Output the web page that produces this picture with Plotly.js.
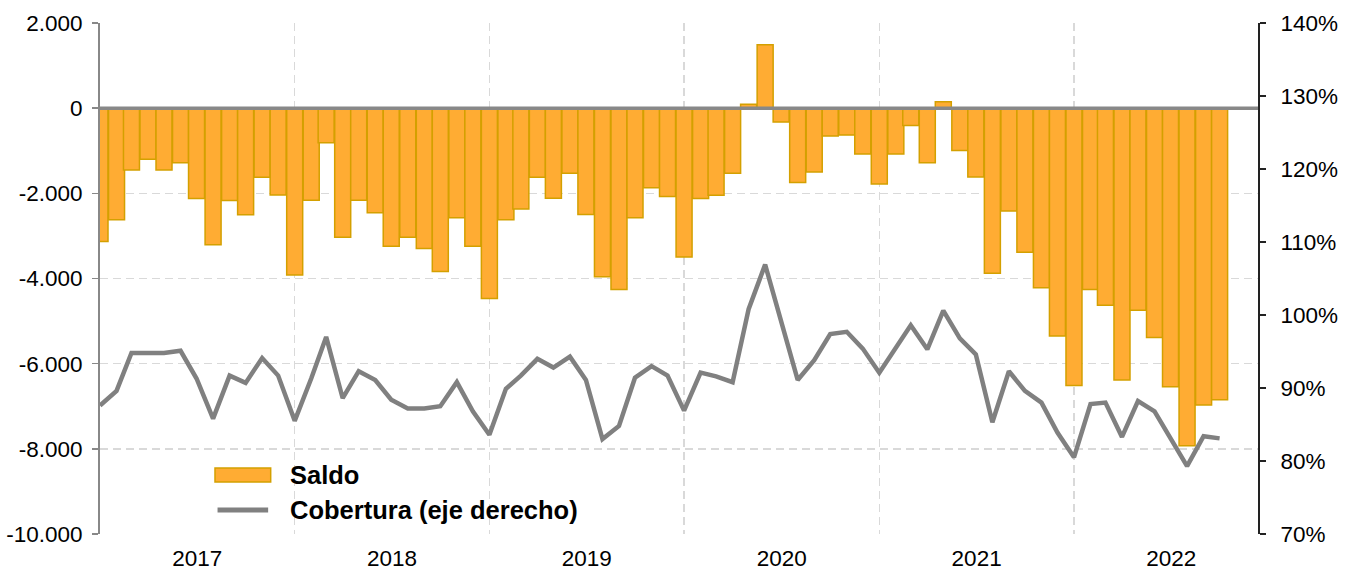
<!DOCTYPE html>
<html>
<head>
<meta charset="utf-8">
<script src="https://cdn.plot.ly/plotly-3.0.1.min.js"></script>
<style>html,body{margin:0;padding:0;background:#fff;}#chart{width:1349px;height:574px;}</style>
</head>
<body>
<div id="chart"></div>
<script>
// Months (first day of each month), Jan 2017 - Oct 2022
const months = [
  '2017-01-01','2017-02-01','2017-03-01','2017-04-01','2017-05-01','2017-06-01','2017-07-01','2017-08-01','2017-09-01','2017-10-01','2017-11-01','2017-12-01',
  '2018-01-01','2018-02-01','2018-03-01','2018-04-01','2018-05-01','2018-06-01','2018-07-01','2018-08-01','2018-09-01','2018-10-01','2018-11-01','2018-12-01',
  '2019-01-01','2019-02-01','2019-03-01','2019-04-01','2019-05-01','2019-06-01','2019-07-01','2019-08-01','2019-09-01','2019-10-01','2019-11-01','2019-12-01',
  '2020-01-01','2020-02-01','2020-03-01','2020-04-01','2020-05-01','2020-06-01','2020-07-01','2020-08-01','2020-09-01','2020-10-01','2020-11-01','2020-12-01',
  '2021-01-01','2021-02-01','2021-03-01','2021-04-01','2021-05-01','2021-06-01','2021-07-01','2021-08-01','2021-09-01','2021-10-01','2021-11-01','2021-12-01',
  '2022-01-01','2022-02-01','2022-03-01','2022-04-01','2022-05-01','2022-06-01','2022-07-01','2022-08-01','2022-09-01','2022-10-01'
];

// Saldo (left axis)
const saldo = [
  -3130,-2620,-1450,-1200,-1450,-1280,-2120,-3205,-2170,-2500,-1620,-2040,
  -3915,-2160,-810,-3030,-2160,-2455,-3245,-3030,-3295,-3836,-2573,-3244,
  -4468,-2620,-2370,-1620,-2113,-1528,-2495,-3961,-4257,-2573,-1871,-2074,
  -3493,-2121,-2043,-1528,94,1490,-327,-1747,-1497,-655,-632,-1076,
  -1778,-1076,-405,-1279,148,-995,-1618,-3875,-2417,-3384,-4218,-5349,
  -6510,-4257,-4631,-6386,-4748,-5387,-6542,-7929,-6970,-6846
];

// Cobertura, % (right axis)
const cobertura = [
  87.6,89.6,94.8,94.8,94.8,95.1,91.3,85.8,91.7,90.7,94.1,91.7,
  85.5,91.3,97.0,88.6,92.3,91.1,88.4,87.2,87.2,87.5,90.8,86.8,
  83.6,89.9,91.7,94.0,92.8,94.3,91.1,83.0,84.8,91.4,93.0,91.7,
  86.9,92.1,91.6,90.8,100.8,106.9,99.0,91.1,93.8,97.4,97.7,95.4,
  92.1,95.5,98.6,95.3,100.6,96.8,94.6,85.3,92.3,89.6,88.0,83.9,
  80.5,87.8,88.0,83.3,88.2,86.8,83.0,79.3,83.4,83.1
];

const leftTickVals = [2000, 0, -2000, -4000, -6000, -8000, -10000];
const leftTickText = ['2.000', '0', '-2.000', '-4.000', '-6.000', '-8.000', '-10.000'];
const seriesNames = ['Saldo', 'Cobertura (eje derecho)'];

const FONT = 'Liberation Sans, Arial, sans-serif';
const MONTH_MS = 30 * 24 * 3600 * 1000;
const BAR_FILL = '#FFAC33';
const BAR_LINE = '#D4A000';
const LINE_COLOR = '#808080';
const GRID_DASH = '8px,5px';

const traces = [
  {
    type: 'bar',
    name: seriesNames[0],
    x: months,
    y: saldo,
    width: MONTH_MS,
    marker: { color: BAR_FILL, line: { color: BAR_LINE, width: 1.5 } },
    yaxis: 'y'
  },
  {
    type: 'scatter',
    mode: 'lines',
    name: seriesNames[1],
    x: months,
    y: cobertura,
    line: { color: LINE_COLOR, width: 4.5 },
    yaxis: 'y2'
  }
];

const legendFont = { family: FONT, size: 25.5, color: '#000', weight: 'bold' };

const layout = {
  width: 1349,
  height: 574,
  margin: { l: 100, r: 91, t: 23, b: 40 },
  paper_bgcolor: '#ffffff',
  plot_bgcolor: '#ffffff',
  font: { family: FONT, size: 22.5, color: '#000' },
  showlegend: false,
  bargap: 0,
  xaxis: {
    type: 'date',
    range: ['2017-01-01', '2022-12-12'],
    tick0: '2017-01-01',
    dtick: 'M12',
    ticklabelmode: 'period',
    tickformat: '%Y',
    ticks: '',
    ticklabelstandoff: 8,
    showgrid: true,
    gridcolor: '#d9d9d9',
    griddash: GRID_DASH,
    gridwidth: 1.5,
    zeroline: false,
    showline: false,
    tickfont: { family: FONT, size: 22.5, color: '#000' }
  },
  yaxis: {
    range: [-10000, 2000],
    tickmode: 'array',
    tickvals: leftTickVals,
    ticktext: leftTickText,
    showgrid: true,
    gridcolor: '#d9d9d9',
    griddash: GRID_DASH,
    gridwidth: 1.5,
    zeroline: false,
    showline: true,
    linecolor: '#888888',
    linewidth: 2,
    ticks: 'outside',
    ticklen: 6,
    tickcolor: '#888888',
    tickwidth: 1.5,
    ticklabelstandoff: 5,
    tickfont: { family: FONT, size: 22.5, color: '#000' }
  },
  yaxis2: {
    overlaying: 'y',
    side: 'right',
    range: [70, 140],
    dtick: 10,
    tick0: 70,
    ticksuffix: '%',
    showgrid: false,
    zeroline: false,
    showline: true,
    linecolor: '#222222',
    linewidth: 2,
    ticks: 'outside',
    ticklen: 6,
    tickcolor: '#222222',
    tickwidth: 1.5,
    ticklabelstandoff: 10,
    tickfont: { family: FONT, size: 22.5, color: '#000' }
  },
  shapes: [
    { type: 'line', xref: 'paper', x0: 0, x1: 1, yref: 'y', y0: 0, y1: 0,
      line: { color: '#888888', width: 3.5 }, layer: 'above' },
    // legend swatches
    { type: 'rect', xref: 'paper', yref: 'paper', x0: 0.0993, x1: 0.1474, y0: 0.1018, y1: 0.1292,
      fillcolor: BAR_FILL, line: { color: BAR_LINE, width: 1.5 }, layer: 'above' },
    { type: 'line', xref: 'paper', yref: 'paper', x0: 0.1015, x1: 0.1452, y0: 0.047, y1: 0.047,
      line: { color: LINE_COLOR, width: 5 }, layer: 'above' }
  ],
  annotations: [
    { xref: 'paper', yref: 'paper', x: 0.1625, y: 0.1155, xanchor: 'left', yanchor: 'middle',
      text: seriesNames[0], showarrow: false, font: legendFont },
    { xref: 'paper', yref: 'paper', x: 0.1625, y: 0.047, xanchor: 'left', yanchor: 'middle',
      text: seriesNames[1], showarrow: false, font: legendFont }
  ]
};

Plotly.newPlot('chart', traces, layout, { displayModeBar: false, staticPlot: true });
</script>
</body>
</html>
